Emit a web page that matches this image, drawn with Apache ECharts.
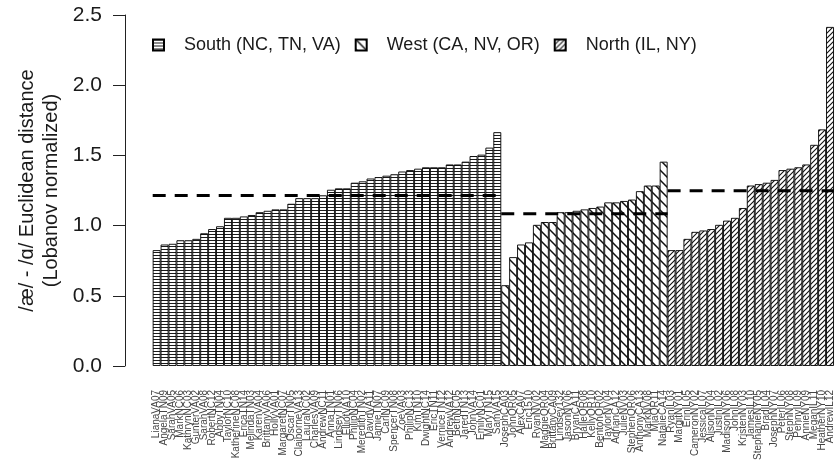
<!DOCTYPE html>
<html>
<head>
<meta charset="utf-8">
<script src="https://cdn.jsdelivr.net/npm/echarts@6/dist/echarts.min.js"></script>
<style>
html,body{margin:0;padding:0;background:#fff;}
#chart{width:835px;height:463px;}
</style>
</head>
<body>
<div id="chart"></div>
<script>
// ---------- data ----------
const southNames = ["LianaVA07","AngelaTN09","SarahVA05","MarkNC06","KathrynNC03","GunterVA02","SarahVA08","RobertNC12","AbbyTN04","TaylorNC10","KatherineNC08","EricaTN14","MelindaTN03","KarenVA04","BrittanyVA06","HollyVA01","MargaretNC07","OscarTN05","ClaiborneVA13","LauraNC02","CharlesVA09","AndrewNC11","AnnaTN01","LindseyTN06","ElliotVA10","PhilipNC04","MeredithTN02","DavidVA11","JamieTN07","CarlNC09","SpencerTN08","ZoeVA03","PhilipNC13","KimTN10","DwightNC14","EricTN11","VerniceTN12","AndrewVA12","BethNC05","JaredTN13","JohnVA14","EmilyNC01","MaryTN15","SamVA15"];
const southValues = [0.825,0.865,0.87,0.895,0.895,0.905,0.945,0.975,0.995,1.055,1.055,1.065,1.075,1.095,1.105,1.115,1.115,1.155,1.195,1.195,1.195,1.215,1.255,1.265,1.265,1.305,1.315,1.335,1.345,1.355,1.365,1.385,1.395,1.405,1.415,1.415,1.415,1.435,1.435,1.455,1.495,1.505,1.555,1.665];
const westNames = ["JosephCA03","JohnOR05","AlexCA07","Eric1510","RyanNV02","MaggieOR04","BrittanyCA09","Lindsey132","JasonNV06","BryanCA11","HalleOR08","KellyOR10","BentonOR02","TaylorNV04","AdrianCA12","JulieNV03","StephenOR06","AnthonyCA13","MarkNV08","MiaOR11","NatalieCA14"];
const westValues = [0.575,0.775,0.865,0.88,1.005,1.025,1.025,1.095,1.095,1.105,1.115,1.125,1.135,1.165,1.165,1.175,1.185,1.245,1.285,1.285,1.455];
const northNames = ["RyanIL03","MargitNY01","ErinIL05","CameronNY02","JessicaIL07","AlisonNY04","JustinIL02","MadisonNY06","JohnIL08","KristenNY03","JamesIL10","StephanieNY05","BradIL04","JosephNY07","PeterIL06","StephNY08","PennyIL09","AnnieNY09","MeganIL11","HeatherNY10","AndrewIL12"];
const northValues = [0.825,0.825,0.905,0.955,0.965,0.975,1.005,1.035,1.055,1.125,1.285,1.295,1.305,1.325,1.395,1.405,1.415,1.435,1.575,1.685,2.415];
const groupNames = ["South (NC, TN, VA)","West (CA, NV, OR)","North (IL, NY)"];
const groupMeans = [1.215, 1.085, 1.248];
const yTickValues = [0, 0.5, 1.0, 1.5, 2.0, 2.5];

// ---------- hatch patterns ----------
function makePattern(kind) {
  const c = document.createElement('canvas');
  const ctx = c.getContext('2d');
  if (kind === 'h') {
    c.width = 4; c.height = 3;
    ctx.fillStyle = '#fff'; ctx.fillRect(0,0,4,3);
    ctx.fillStyle = '#1a1a1a'; ctx.fillRect(0,0,4,1);
  } else {
    const s = kind === 'back' ? 10 : 5;
    c.width = s; c.height = s;
    ctx.fillStyle = '#fff'; ctx.fillRect(0,0,s,s);
    ctx.strokeStyle = '#111';
    ctx.lineWidth = kind === 'back' ? 1.5 : 1.1;
    ctx.beginPath();
    if (kind === 'back') {
      ctx.moveTo(-1,-1); ctx.lineTo(s+1,s+1);
      ctx.moveTo(-2,s-2); ctx.lineTo(2,s+2);
      ctx.moveTo(s-2,-2); ctx.lineTo(s+2,2);
    } else {
      ctx.moveTo(-1,s+1); ctx.lineTo(s+1,-1);
      ctx.moveTo(-2,2); ctx.lineTo(2,-2);
      ctx.moveTo(s-2,s+2); ctx.lineTo(s+2,s-2);
    }
    ctx.stroke();
  }
  return c;
}
const patterns = [makePattern('h'), makePattern('back'), makePattern('fwd')];

// ---------- build ----------
const categories = southNames.concat(westNames, northNames);
const groups = [southValues, westValues, northValues];
const total = categories.length;
let start = 0;
const series = [];
const lineSeries = [];
groups.forEach((vals, gi) => {
  const data = categories.map((_, i) => (i >= start && i < start + vals.length) ? vals[i - start] : '-');
  series.push({
    name: groupNames[gi],
    type: 'bar',
    data: data,
    barGap: '-100%',
    barCategoryGap: 0,
    itemStyle: {
      color: { image: patterns[gi], repeat: 'repeat' },
      borderColor: '#000',
      borderWidth: 0.9
    },
    emphasis: { disabled: true },
    animation: false
  });
  lineSeries.push({
    type: 'line',
    xAxisIndex: 1,
    data: [[start, groupMeans[gi]], [start + vals.length, groupMeans[gi]]],
    symbol: 'none',
    lineStyle: { color: '#000', width: 3, type: [13, 9] },
    z: 5,
    silent: true,
    animation: false
  });
  start += vals.length;
});

const chart = echarts.init(document.getElementById('chart'), null, { renderer: 'canvas' });
chart.setOption({
  backgroundColor: '#fff',
  animation: false,
  textStyle: { fontFamily: 'Liberation Sans, Arial, sans-serif' },
  grid: { left: 152.7, top: 15, width: 684, height: 355 },
  legend: {
    data: groupNames,
    left: 147,
    top: 31,
    icon: 'rect',
    itemWidth: 11,
    itemHeight: 11,
    itemGap: 14,
    selectedMode: false,
    textStyle: { fontSize: 18, color: '#1a1a1a', padding: [0, 0, 0, 15] }
  },
  xAxis: [
    {
      type: 'category',
      data: categories,
      axisLine: { show: false },
      axisTick: { show: false },
      axisLabel: { rotate: 90, interval: 0, fontSize: 10, color: '#444', margin: 24 }
    },
    {
      type: 'value',
      min: 0,
      max: total,
      show: false
    }
  ],
  yAxis: {
    type: 'value',
    min: yTickValues[0],
    max: yTickValues[yTickValues.length - 1],
    interval: 0.5,
    offset: 27.7,
    axisLine: { show: true, onZero: false, lineStyle: { color: '#222', width: 1 } },
    axisTick: { show: true, length: 12, lineStyle: { color: '#222' } },
    splitLine: { show: false },
    axisLabel: { fontSize: 21, color: '#1a1a1a', margin: 23, formatter: v => v.toFixed(1) },
    name: '/æ/ - /ɑ/ Euclidean distance\n(Lobanov normalized)',
    nameLocation: 'middle',
    nameGap: 62,
    nameMoveOverlap: false,
    nameTextStyle: { fontSize: 20, color: '#1a1a1a', lineHeight: 24 }
  },
  series: series.concat(lineSeries)
});
</script>
</body>
</html>
